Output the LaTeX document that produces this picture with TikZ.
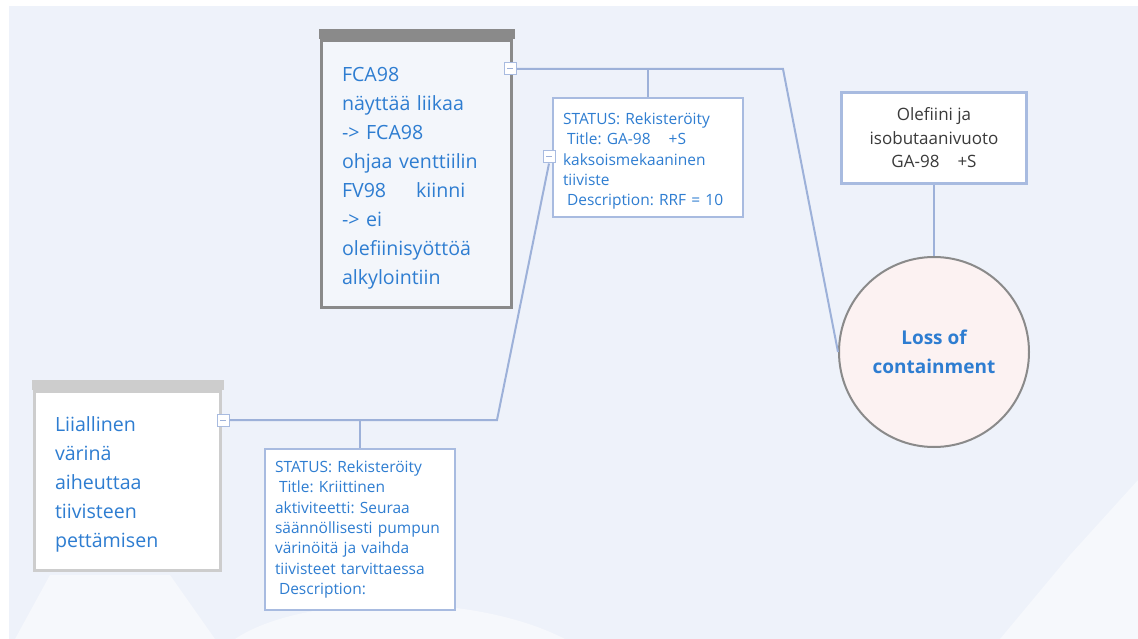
\documentclass[tikz,border=0pt]{standalone}
\usepackage{fontspec}
\setmainfont{Open Sans}
\frenchspacing
\usepackage{tikz}
\usetikzlibrary{positioning}

\definecolor{panelbg}{HTML}{EEF2FA}
\definecolor{panellight}{HTML}{F6F8FC}
\definecolor{txtblue}{HTML}{2E7DD1}
\definecolor{linkblue}{HTML}{9DB1D9}
\definecolor{boxblue}{HTML}{A8BBE0}
\definecolor{darkbar}{HTML}{8A8A8A}
\definecolor{lightbar}{HTML}{CDCDCD}
\definecolor{fcafill}{HTML}{F3F6FB}
\definecolor{lossfill}{HTML}{FCF2F2}
\definecolor{txtgrey}{HTML}{3A3A3A}

\tikzset{
  causebox/.style={draw, line width=3pt, align=left, text=txtblue, inner xsep=20.5pt, inner ysep=0pt,
    font=\fontsize{19.6}{29}\selectfont, execute at begin node={\rule{0pt}{22pt}}},
  statusbox/.style={draw=boxblue, fill=white, line width=1.2pt, align=left, text=txtblue, text width=170pt,
    inner xsep=10pt, inner ysep=0pt, minimum width=190pt, font=\fontsize{15.5}{20.3}\selectfont},
  collapse/.style={draw=boxblue, fill=white, line width=1pt, minimum size=12pt, inner sep=0pt,
    path picture={\draw[linkblue, line width=1pt] ([xshift=3pt]path picture bounding box.west)
      -- ([xshift=-3pt]path picture bounding box.east);}},
  link/.style={draw=linkblue, line width=2pt},
}

\begin{document}
\begin{tikzpicture}[x=1pt, y=-1pt]
% page and backdrop
\useasboundingbox (0,0) rectangle (1138,639);
\fill[white] (0,0) rectangle (1138,639);
\fill[panelbg] (9,6) rectangle (1138,639);
\fill[panellight] (15,639) -- (50,575) -- (170,575) -- (215,639) -- cycle;
\fill[panellight] (235,639) .. controls (300,595) and (470,590) .. (565,639) -- cycle;
\fill[panellight] (1000,639) -- (1070,555) -- (1138,480) -- (1138,639) -- cycle;

\begin{scope}
    \node[causebox, fill=fcafill, draw=darkbar, text width=149pt, minimum height=267pt] (fca) at (416.5,174)
      {FCA98\\ näyttää liikaa\\ -> FCA98\\ ohjaa venttiilin\\ FV98\hspace{30pt}kiinni\\ -> ei\\ olefiinisyöttöä\\ alkylointiin};
    \fill[darkbar] ([xshift=-1.5pt]fca.north west) rectangle ([xshift=1.5pt,yshift=10pt]fca.north east);

    \node[causebox, fill=white, draw=lightbar, text width=145pt, minimum height=179pt] (vib) at (127.5,481)
      {Liiallinen\\ värinä\\ aiheuttaa\\ tiivisteen\\ pettämisen};
    \fill[lightbar] ([xshift=-1.5pt]vib.north west) rectangle ([xshift=1.5pt,yshift=10pt]vib.north east);

    \node[statusbox, minimum height=119pt, execute at begin node={\rule{0pt}{19pt}}] (seal) at (648,157.5)
      {STATUS: Rekisteröity\\ \hspace*{4pt}Title: GA-98\hspace{18pt}+S\\ kaksoismekaaninen\\ tiiviste\\ \hspace*{4pt}Description: RRF = 10};
    \node[statusbox, minimum height=161pt] (watch) at (360,529.5)
      {STATUS: Rekisteröity\\ \hspace*{4pt}Title: Kriittinen\\ aktiviteetti: Seuraa\\ säännöllisesti pumpun\\ värinöitä ja vaihda\\ tiivisteet tarvittaessa\\ \hspace*{4pt}Description:};

    \node[draw=boxblue, fill=white, line width=3pt, align=center, text=txtgrey, minimum width=185pt,
      minimum height=91pt, font=\fontsize{17}{23.5}\selectfont] (leak) at (934,138)
      {Olefiini ja\\ isobutaanivuoto\\ GA-98\hspace{18pt}+S};
    \node[circle, draw=darkbar, fill=lossfill, line width=2pt, minimum size=190pt, align=center, text=txtblue,
      font=\fontsize{19}{29}\selectfont\bfseries] (loc) at (934,352) {Loss of\\ containment};

    \node[collapse] (m1) at (510,69) {};
    \node[collapse] (m2) at (549,157) {};
    \node[collapse] (m3) at (223,420) {};
    \coordinate (k1) at (783,69);
    \coordinate (k2) at (497,420);

    \draw[link] (m1.east) -- (k1) -- (loc.west);
    \draw[link] (m2.south) -- (k2) -- (m3.east);
    \path[link] (seal.north) edge (seal.north |- m1.east);
    \path[link] (watch.north) edge (watch.north |- m3.east);
    \path[link] (leak.south) edge (loc.north);
\end{scope}
\end{tikzpicture}
\end{document}
